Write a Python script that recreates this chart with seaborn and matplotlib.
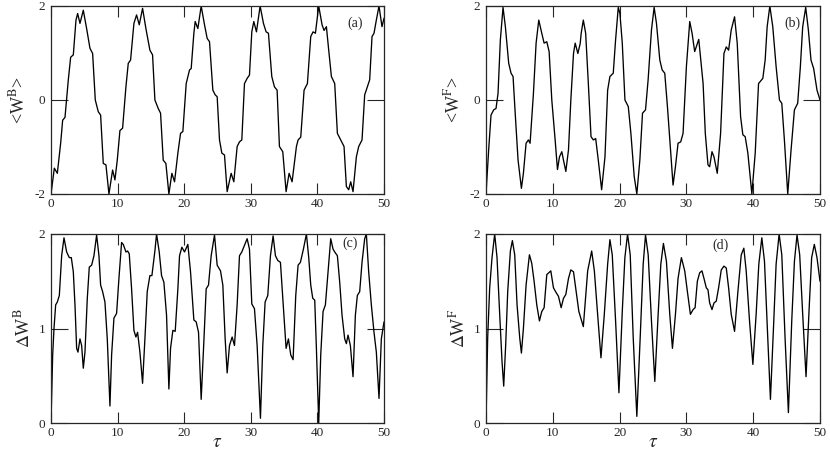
import matplotlib
matplotlib.use("Agg")
import numpy as np
import pandas as pd
import seaborn as sns
from matplotlib import pyplot as plt

# values (tau, value) for each panel
tau_a = [0.0, 0.5, 0.95, 1.45, 1.75, 2.1, 2.6, 2.95, 3.35, 3.75, 4.0, 4.35, 4.85, 5.35, 5.85, 6.25,
         6.65, 7.1, 7.45, 7.85, 8.25, 8.7, 9.25, 9.6, 9.95, 10.35, 10.75, 11.25, 11.6, 11.95, 12.45,
         12.85, 13.25, 13.75, 14.25, 14.85, 15.25, 15.6, 16.1, 16.45, 16.85, 17.25, 17.7, 18.15,
         18.55, 19.05, 19.45, 19.8, 20.3, 20.8, 21.05, 21.45, 21.65, 22.05, 22.55, 23.05, 23.45,
         23.8, 24.3, 24.65, 24.95, 25.3, 25.65, 26.05, 26.45, 27.05, 27.45, 27.95, 28.3, 28.65,
         29.05, 29.45, 29.8, 30.15, 30.45, 30.85, 31.4, 31.9, 32.3, 32.65, 33.15, 33.55, 33.95,
         34.3, 34.8, 35.3, 35.75, 36.2, 36.85, 37.1, 37.5, 38.0, 38.5, 39.0, 39.35, 39.7, 40.2,
         40.7, 41.0, 41.35, 41.7, 42.1, 42.6, 43.0, 43.5, 44.0, 44.35, 44.7, 45.0, 45.35, 45.85,
         46.2, 46.7, 47.1, 47.5, 47.85, 48.2, 48.5, 48.85, 49.25, 49.7, 50.0]
wb = [-2.0, -1.45, -1.56, -0.92, -0.43, -0.37, 0.43, 0.91, 0.96, 1.70, 1.84, 1.63, 1.91, 1.52, 1.10,
      0.99, 0.0, -0.25, -0.32, -1.35, -1.38, -2.0, -1.49, -1.70, -1.28, -0.65, -0.60, 0.28, 0.78,
      0.85, 1.63, 1.81, 1.60, 1.95, 1.52, 1.06, 0.96, 0.0, -0.18, -0.28, -1.28, -1.35, -2.0, -1.56,
      -1.74, -1.13, -0.71, -0.67, 0.35, 0.64, 0.67, 1.42, 1.67, 1.52, 2.0, 1.60, 1.31, 1.24, 0.21,
      0.11, 0.07, -0.85, -1.13, -1.17, -1.95, -1.56, -1.74, -0.99, -0.89, -0.85, 0.35, 0.46, 0.53,
      1.45, 1.67, 1.45, 2.0, 1.63, 1.45, 1.42, 0.50, 0.28, 0.21, -0.99, -1.10, -1.95, -1.56, -1.74,
      -0.99, -0.85, -0.79, 0.21, 0.35, 1.35, 1.45, 1.42, 2.0, 1.60, 1.48, 1.56, 1.06, 0.50, 0.35,
      -0.71, -0.85, -0.99, -1.84, -1.91, -1.74, -1.95, -1.21, -0.99, -0.85, 0.11, 0.28, 0.43, 1.35,
      1.42, 1.70, 2.0, 1.56, 1.74]

tau_b = [0.0, 0.4, 0.75, 1.15, 1.5, 1.8, 2.15, 2.55, 2.9, 3.4, 3.75, 4.05, 4.4, 4.8, 5.3, 5.6, 6.0,
         6.35, 6.6, 7.1, 7.5, 7.9, 8.35, 8.7, 9.1, 9.45, 9.85, 10.35, 10.7, 11.0, 11.35, 11.6, 11.95,
         12.35, 12.7, 13.1, 13.35, 13.75, 14.1, 14.25, 14.57, 14.92, 15.32, 15.72, 16.07, 16.42,
         16.81, 17.31, 17.81, 18.21, 18.55, 19.05, 19.4, 19.8, 20.05, 20.4, 20.8, 21.3, 21.69, 22.19,
         22.58, 23.03, 23.43, 23.88, 24.27, 24.77, 25.17, 25.52, 26.02, 26.37, 26.76, 27.16, 27.66,
         28.0, 28.36, 28.75, 29.15, 29.5, 30.0, 30.5, 30.85, 31.24, 31.85, 32.5, 32.83, 33.23, 33.48,
         33.83, 34.13, 34.62, 35.12, 35.62, 35.97, 36.32, 36.71, 37.21, 37.61, 38.11, 38.45, 38.8,
         39.2, 39.8, 40.3, 40.8, 41.44, 41.79, 42.09, 42.49, 42.93, 43.43, 43.93, 44.28, 44.67,
         45.17, 45.67, 46.17, 46.66, 47.06, 47.41, 47.86, 48.26, 48.65, 49.05, 49.55, 50.0]
wf = [-2.0, -1.06, -0.32, -0.21, -0.18, 0.14, 1.28, 1.97, 1.56, 0.78, 0.57, 0.50, -0.35, -1.28,
      -1.88, -1.56, -0.92, -0.85, -0.92, 0.14, 1.21, 1.70, 1.42, 1.21, 1.24, 1.03, 0.0, -0.85,
      -1.48, -1.21, -1.10, -1.28, -1.52, -1.06, 0.0, 0.99, 1.21, 0.99, 1.20, 1.42, 1.70, 1.42,
      0.35, -0.78, -0.85, -0.82, -1.28, -1.91, -1.21, 0.21, 0.50, 0.57, 1.28, 1.97, 1.84, 1.21,
      0.0, -0.14, -0.71, -1.63, -2.0, -1.28, -0.28, -0.21, 0.43, 1.49, 1.97, 1.63, 0.85, 0.64,
      0.57, -0.14, -1.13, -1.81, -1.42, -0.92, -0.89, -0.71, 0.71, 1.67, 1.42, 1.03, 1.29, 0.35,
      -0.71, -1.38, -1.42, -1.10, -1.21, -1.56, -0.71, 0.99, 1.13, 1.06, 1.49, 1.77, 1.21, -0.35,
      -0.74, -0.78, -1.13, -2.0, -1.13, 0.35, 0.46, 0.85, 1.56, 2.0, 1.56, 0.71, 0.0, -0.07, -0.85,
      -2.0, -1.06, -0.21, -0.07, 0.71, 1.56, 1.97, 1.49, 0.85, 0.67, 0.21, 0.0]

tau_c = [0.0, 0.25, 0.45, 0.7, 0.95, 1.25, 1.6, 1.95, 2.35, 2.75, 3.05, 3.35, 3.6, 3.85, 4.05, 4.35,
         4.6, 4.85, 5.1, 5.45, 5.75, 6.1, 6.45, 6.85, 7.2, 7.45, 7.75, 8.1, 8.45, 8.85, 9.1, 9.45,
         9.85, 10.2, 10.6, 10.85, 11.25, 11.5, 11.75, 12.1, 12.45, 12.75, 13.0, 13.35, 13.75, 14.1,
         14.45, 14.85, 15.15, 15.6, 15.85, 16.25, 16.6, 16.95, 17.35, 17.7, 17.95, 18.3, 18.65,
         19.05, 19.3, 19.65, 20.05, 20.55, 20.95, 21.45, 21.8, 22.15, 22.55, 22.95, 23.3, 23.65,
         24.05, 24.55, 24.95, 25.45, 25.8, 26.15, 26.45, 26.8, 27.2, 27.55, 27.95, 28.3, 28.65,
         29.05, 29.45, 29.8, 30.15, 30.55, 30.95, 31.45, 31.8, 32.15, 32.55, 32.95, 33.35, 33.7,
         34.05, 34.45, 34.8, 35.3, 35.65, 36.0, 36.35, 36.75, 37.1, 37.45, 37.9, 38.35, 38.7, 39.0,
         39.3, 39.6, 39.85, 40.2, 40.5, 40.85, 41.2, 41.6, 42.0, 42.35, 42.6, 43.0, 43.35, 43.7,
         44.1, 44.35, 44.6, 44.95, 45.35, 45.7, 46.0, 46.35, 46.7, 47.1, 47.35, 47.7, 48.1, 48.5,
         48.85, 49.25, 49.6, 50.0]
dwb = [0.0, 0.72, 1.0, 1.25, 1.28, 1.35, 1.77, 1.96, 1.81, 1.75, 1.75, 1.60, 1.25, 0.79, 0.75, 0.89,
       0.82, 0.58, 0.75, 1.32, 1.65, 1.67, 1.77, 1.99, 1.77, 1.46, 1.39, 1.28, 0.89, 0.18, 0.72, 1.11,
       1.16, 1.53, 1.91, 1.89, 1.81, 1.82, 1.79, 1.42, 0.98, 0.91, 0.96, 0.75, 0.42, 0.89, 1.39,
       1.56, 1.56, 1.82, 2.0, 1.81, 1.56, 1.49, 1.14, 0.36, 0.79, 0.98, 0.97, 1.42, 1.77, 1.86,
       1.81, 1.89, 1.60, 1.09, 1.07, 0.96, 0.25, 0.86, 1.42, 1.46, 1.77, 1.99, 1.67, 1.61, 1.46,
       0.89, 0.53, 0.82, 0.91, 0.82, 1.25, 1.77, 1.81, 1.88, 1.95, 1.84, 1.26, 1.21, 0.82, 0.05,
       0.82, 1.28, 1.35, 1.77, 1.98, 1.77, 1.72, 1.70, 1.32, 0.79, 0.89, 0.72, 0.67, 1.35, 1.67,
       1.70, 1.84, 2.0, 1.75, 1.46, 1.32, 1.30, 0.79, 0.0, 0.72, 1.18, 1.25, 1.60, 1.95, 1.84, 1.81,
       1.77, 1.49, 1.14, 0.89, 0.84, 0.93, 0.82, 0.49, 1.14, 1.35, 1.39, 1.70, 1.95, 2.0, 1.6, 1.25,
       0.96, 0.75, 0.26, 0.89, 1.07]

tau_d = [0.0, 0.25, 0.55, 0.9, 1.3, 1.65, 2.05, 2.4, 2.65, 2.95, 3.25, 3.65, 3.95, 4.3, 4.65, 5.05,
         5.3, 5.6, 6.0, 6.5, 6.85, 7.2, 7.6, 8.0, 8.35, 8.7, 9.1, 9.4, 9.7, 10.1, 10.5, 10.85, 11.25,
         11.6, 11.95, 12.35, 12.7, 13.1, 13.5, 13.9, 14.57, 15.22, 15.82, 16.22, 16.71, 17.21, 17.71,
         18.21, 18.55, 18.9, 19.4, 19.9, 20.4, 20.79, 21.19, 21.59, 22.04, 22.58, 23.08, 23.53,
         23.88, 24.28, 24.77, 25.27, 25.77, 26.17, 26.56, 27.01, 27.51, 27.91, 28.36, 28.75, 29.25,
         29.75, 30.15, 30.6, 31.0, 31.3, 31.64, 31.99, 32.33, 32.63, 32.98, 33.23, 33.48, 33.83,
         34.13, 34.47, 34.82, 35.22, 35.62, 35.97, 36.32, 36.71, 37.21, 37.71, 38.21, 38.6, 38.95,
         39.45, 39.95, 40.44, 40.84, 41.29, 41.69, 42.18, 42.58, 43.08, 43.43, 43.88, 44.28, 44.77,
         45.27, 45.77, 46.17, 46.56, 46.96, 47.41, 47.91, 48.4, 48.75, 49.15, 49.55, 50.0]
dwf = [0.0, 0.90, 1.43, 1.75, 2.0, 1.75, 1.15, 0.65, 0.39, 0.83, 1.39, 1.82, 1.93, 1.78, 1.25, 0.90,
       0.74, 1.0, 1.46, 1.78, 1.69, 1.50, 1.25, 1.08, 1.18, 1.22, 1.57, 1.59, 1.61, 1.43, 1.38, 1.34,
       1.22, 1.32, 1.36, 1.53, 1.62, 1.60, 1.39, 1.18, 1.02, 1.61, 1.82, 1.61, 1.15, 0.69, 1.15,
       1.68, 1.94, 1.78, 1.08, 0.32, 1.18, 1.75, 2.0, 1.78, 0.90, 0.07, 0.90, 1.68, 1.99, 1.78,
       1.08, 0.44, 1.15, 1.68, 1.90, 1.71, 1.15, 0.79, 1.15, 1.53, 1.75, 1.61, 1.39, 1.15, 1.20,
       1.22, 1.50, 1.59, 1.61, 1.53, 1.43, 1.41, 1.27, 1.20, 1.27, 1.29, 1.43, 1.62, 1.66, 1.64,
       1.43, 1.15, 0.97, 1.39, 1.78, 1.85, 1.61, 1.08, 0.62, 1.15, 1.68, 1.96, 1.71, 0.90, 0.25,
       1.08, 1.68, 2.0, 1.78, 0.90, 0.11, 1.08, 1.71, 1.99, 1.78, 1.15, 0.49, 1.25, 1.75, 1.89,
       1.75, 1.50]

xticks = [0, 10, 20, 30, 40, 50]
yticks_top = [-2, 0, 2]
yticks_bot = [0, 1, 2]

sns.set_style("ticks")
plt.rcParams["font.family"] = ["Liberation Serif", "DejaVu Serif"]
plt.rcParams["mathtext.fontset"] = "stix"
plt.rcParams["axes.unicode_minus"] = False

fig = plt.figure(figsize=(8.3, 4.5), dpi=100)
boxes = {
    "a": [51 / 830, 1 - 194 / 450, 333 / 830, 188 / 450],
    "b": [486 / 830, 1 - 194 / 450, 334 / 830, 188 / 450],
    "c": [51 / 830, 1 - 423 / 450, 333 / 830, 189 / 450],
    "d": [486 / 830, 1 - 423 / 450, 334 / 830, 189 / 450],
}
panels = [
    ("a", tau_a, wb, r"<W$^{\rm B}$>", yticks_top, (-2, 2), (45.6, 1.63)),
    ("b", tau_b, wf, r"<W$^{\rm F}$>", yticks_top, (-2, 2), (45.9, 1.63)),
    ("c", tau_c, dwb, r"$\Delta$W$^{\rm B}$", yticks_bot, (0, 2), (44.9, 1.90)),
    ("d", tau_d, dwf, r"$\Delta$W$^{\rm F}$", yticks_bot, (0, 2), (35.1, 1.88)),
]

for key, t, v, ylab, yt, ylim, tag in panels:
    ax = fig.add_axes(boxes[key])
    df = pd.DataFrame({"tau": t, "val": v})
    sns.lineplot(data=df, x="tau", y="val", ax=ax, color="black", linewidth=0.95,
                 estimator=None, sort=False, solid_joinstyle="round")
    ax.set_xlim(0, 50)
    ax.set_ylim(*ylim)
    ax.set_xticks(xticks)
    ax.set_yticks(yt)
    ax.tick_params(axis="x", direction="in", length=8, width=0.8, top=True, labelsize=9.5, pad=3)
    ax.tick_params(axis="y", direction="in", length=12, width=0.8, right=True, labelsize=9.5, pad=4)
    for sp in ax.spines.values():
        sp.set_linewidth(0.9)
    ax.set_ylabel(ylab, fontsize=13, labelpad=4)
    ax.set_xlabel("")
    if key in ("c", "d"):
        ax.text(0.5, -0.105, r"$\tau$", transform=ax.transAxes, fontsize=14,
                ha="center", va="center")
    ax.text(tag[0], tag[1], "(" + key + ")", fontsize=10, ha="center", va="center")

fig.savefig("out.png", dpi=100)
